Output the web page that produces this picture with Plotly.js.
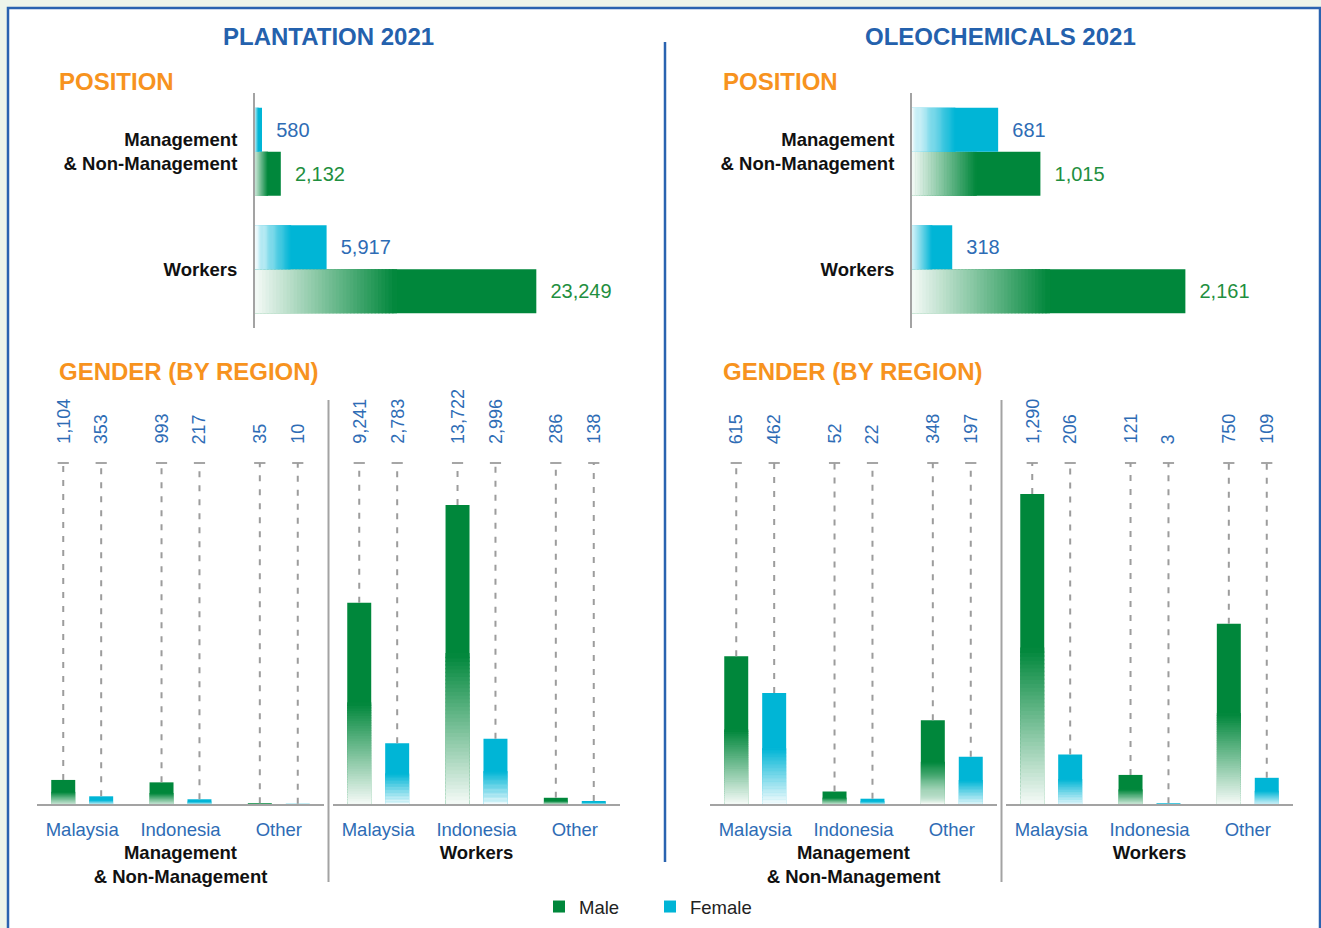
<!DOCTYPE html>
<html>
<head>
<meta charset="utf-8">
<script src="https://cdn.plot.ly/plotly-3.0.1.min.js"></script>
<style>
html, body { margin: 0; padding: 0; background: #eef5ea; }
#chart { width: 1321px; height: 928px; }
</style>
</head>
<body>
<div id="chart"></div>
<script>
// ---------------- DATA ----------------
const positions = ['Workers', 'Management<br>& Non-Management'];
const plantMalePos   = [23249, 2132];
const plantFemalePos = [5917, 580];
const oleoMalePos    = [2161, 1015];
const oleoFemalePos  = [318, 681];

const regions = ['Malaysia', 'Indonesia', 'Other'];
const plantMgmtMale   = [1104, 993, 35];
const plantMgmtFemale = [353, 217, 10];
const plantWorkMale   = [9241, 13722, 286];
const plantWorkFemale = [2783, 2996, 138];
const oleoMgmtMale    = [615, 52, 348];
const oleoMgmtFemale  = [462, 22, 197];
const oleoWorkMale    = [1290, 121, 750];
const oleoWorkFemale  = [206, 3, 109];

const seriesNames = ['Male', 'Female'];

// ---------------- STYLE ----------------
const W = 1321, H = 928;
const px = p => p / W;
const py = p => 1 - p / H;
const FONT = 'Liberation Sans, Arial, Helvetica, sans-serif';
const GREEN = '#00873b';
const CYAN = '#00b5d6';
const LBLUE = '#2e6cb5';
const TBLUE = '#2461ad';
const ORANGE = '#f7931e';
const GRAY = '#a3a3a3';
const LEADER = '#9c9c9c';
const NSEG = 40;
const FADE = 0.5;

function mix(hex, t) {
  const r = parseInt(hex.slice(1, 3), 16), g = parseInt(hex.slice(3, 5), 16), b = parseInt(hex.slice(5, 7), 16);
  const m = c => Math.round(255 + (c - 255) * t);
  return 'rgb(' + m(r) + ',' + m(g) + ',' + m(b) + ')';
}
const fmt = v => v.toLocaleString('en-US');

const traces = [];
const annotations = [];

// gradient bar helper (full solid bar + faded segments at its base)
function gradBars(o) {
  const horiz = o.orientation === 'h';
  const full = {
    type: 'bar', orientation: o.orientation,
    name: o.name, legendgroup: o.name, showlegend: !!o.showlegend,
    offset: o.offset, width: o.width,
    marker: { color: o.color, line: { width: 0 } },
    xaxis: o.xaxis, yaxis: o.yaxis,
    hoverinfo: 'skip', cliponaxis: false
  };
  if (horiz) { full.x = o.vals; full.y = o.pos; } else { full.x = o.pos; full.y = o.vals; }
  if (o.text) {
    full.text = o.vals.map(v => '\u00a0\u00a0' + fmt(v));
    full.textposition = 'outside';
    full.constraintext = 'none';
    full.outsidetextfont = { family: FONT, size: 20, color: o.textcolor };
  } else {
    full.textposition = 'none';
  }
  traces.push(full);
  for (let k = 0; k < NSEG; k++) {
    const base = o.vals.map(v => v * FADE * k / NSEG);
    const len = o.vals.map(v => v * FADE / NSEG * 1.4);
    const seg = {
      type: 'bar', orientation: o.orientation, showlegend: false, legendgroup: o.name,
      offset: o.offset, width: o.width, base: base,
      marker: { color: mix(o.color, 0.04 + 0.96 * (k + 0.5) / NSEG), line: { width: 0 } },
      xaxis: o.xaxis, yaxis: o.yaxis, hoverinfo: 'skip', textposition: 'none'
    };
    if (horiz) { seg.x = len; seg.y = o.pos; } else { seg.x = o.pos; seg.y = len; }
    traces.push(seg);
  }
}

// ---------------- TOP: POSITION ----------------
const HBW = 0.3745;
gradBars({ orientation: 'h', vals: plantMalePos, pos: positions, color: GREEN, offset: -HBW, width: HBW,
  xaxis: 'x', yaxis: 'y', name: seriesNames[0], showlegend: true, text: true, textcolor: '#1f8f40' });
gradBars({ orientation: 'h', vals: plantFemalePos, pos: positions, color: CYAN, offset: 0, width: HBW,
  xaxis: 'x', yaxis: 'y', name: seriesNames[1], showlegend: true, text: true, textcolor: LBLUE });
gradBars({ orientation: 'h', vals: oleoMalePos, pos: positions, color: GREEN, offset: -HBW, width: HBW,
  xaxis: 'x2', yaxis: 'y2', name: seriesNames[0], text: true, textcolor: '#1f8f40' });
gradBars({ orientation: 'h', vals: oleoFemalePos, pos: positions, color: CYAN, offset: 0, width: HBW,
  xaxis: 'x2', yaxis: 'y2', name: seriesNames[1], text: true, textcolor: LBLUE });

// ---------------- BOTTOM: GENDER BY REGION ----------------
const BW = 0.244, SEP = 0.193;
const idx = regions.map((r, i) => i);

function genderPanel(maleVals, femaleVals, xa, ya, top) {
  const sets = [
    { vals: maleVals, color: GREEN, shift: -SEP, name: seriesNames[0] },
    { vals: femaleVals, color: CYAN, shift: SEP, name: seriesNames[1] }
  ];
  sets.forEach(s => {
    gradBars({ orientation: 'v', vals: s.vals, pos: idx, color: s.color, offset: s.shift - BW / 2, width: BW,
      xaxis: xa, yaxis: ya, name: s.name });
    const lx = [], ly = [], cx = [], cy = [];
    s.vals.forEach((v, i) => {
      lx.push(i + s.shift, i + s.shift, null);
      ly.push(v, top, null);
      cx.push(i + s.shift); cy.push(top);
      annotations.push({
        x: i + s.shift, xref: xa, y: py(446), yref: 'paper',
        text: fmt(v), textangle: -90, showarrow: false,
        xanchor: 'center', yanchor: 'bottom',
        font: { family: FONT, size: 18, color: LBLUE }
      });
    });
    traces.push({ type: 'scatter', mode: 'lines', x: lx, y: ly, xaxis: xa, yaxis: ya,
      line: { color: LEADER, width: 2, dash: '6px,8px' }, showlegend: false, hoverinfo: 'skip', cliponaxis: false });
    traces.push({ type: 'scatter', mode: 'markers', x: cx, y: cy, xaxis: xa, yaxis: ya,
      marker: { symbol: 'line-ew-open', size: 8, color: LEADER, line: { color: LEADER, width: 1.8 } },
      showlegend: false, hoverinfo: 'skip', cliponaxis: false });
  });
}

const PLANT_TOP = 15650, OLEO_TOP = 1419;
genderPanel(plantMgmtMale, plantMgmtFemale, 'x3', 'y3', PLANT_TOP);
genderPanel(plantWorkMale, plantWorkFemale, 'x4', 'y3', PLANT_TOP);
genderPanel(oleoMgmtMale, oleoMgmtFemale, 'x5', 'y4', OLEO_TOP);
genderPanel(oleoWorkMale, oleoWorkFemale, 'x6', 'y4', OLEO_TOP);

// ---------------- AXES ----------------
const hidden = { visible: false, fixedrange: true, showgrid: false, zeroline: false };
function posY(anchor) {
  return {
    domain: [py(328), py(93)], anchor: anchor, type: 'category', range: [-0.5, 1.5],
    categoryorder: 'array', categoryarray: positions,
    showline: true, linecolor: GRAY, linewidth: 2, showgrid: false, zeroline: false,
    ticks: 'outside', ticklen: 12, tickcolor: 'rgba(0,0,0,0)',
    tickfont: { family: FONT, size: 18.5, color: '#111', weight: 'bold' }, fixedrange: true
  };
}
function regX(domain, anchor, title) {
  return {
    domain: domain, anchor: anchor, range: [-0.46, 2.46],
    tickmode: 'array', tickvals: idx, ticktext: regions,
    tickfont: { family: FONT, size: 18.5, color: LBLUE },
    ticks: 'outside', ticklen: 8, tickcolor: 'rgba(0,0,0,0)',
    showline: true, linecolor: GRAY, linewidth: 2, showgrid: false, zeroline: false, fixedrange: true,
    title: { text: title, font: { family: FONT, size: 18.5, color: '#111', weight: 'bold' }, standoff: 7 }
  };
}

const shapes = [
  { type: 'rect', xref: 'paper', yref: 'paper', x0: px(8), x1: px(1320), y0: py(8), y1: py(940),
    fillcolor: '#ffffff', line: { color: '#2a63b0', width: 2.5 }, layer: 'below' },
  { type: 'line', xref: 'paper', yref: 'paper', x0: px(665), x1: px(665), y0: py(42), y1: py(862),
    line: { color: '#2a63b0', width: 2.5 } },
  { type: 'line', xref: 'paper', yref: 'paper', x0: px(328.5), x1: px(328.5), y0: py(400), y1: py(882),
    line: { color: GRAY, width: 2 } },
  { type: 'line', xref: 'paper', yref: 'paper', x0: px(1001.5), x1: px(1001.5), y0: py(400), y1: py(882),
    line: { color: GRAY, width: 2 } }
];

function head(text, x, y, color, anchor) {
  annotations.push({ text: text, x: px(x), y: py(y), xref: 'paper', yref: 'paper', showarrow: false,
    xanchor: anchor, yanchor: 'middle', font: { family: FONT, size: 24, color: color, weight: 'bold' } });
}
head('PLANTATION 2021', 328, 37, TBLUE, 'center');
head('OLEOCHEMICALS 2021', 1000.5, 37, TBLUE, 'center');
head('POSITION', 57, 81.5, ORANGE, 'left');
head('POSITION', 721, 81.5, ORANGE, 'left');
head('GENDER (BY REGION)', 57, 371.5, ORANGE, 'left');
head('GENDER (BY REGION)', 721, 371.5, ORANGE, 'left');

const layout = {
  width: W, height: H,
  margin: { l: 0, r: 0, t: 0, b: 0 },
  paper_bgcolor: '#eef5ea', plot_bgcolor: 'rgba(0,0,0,0)',
  font: { family: FONT, color: '#111' },
  barmode: 'overlay',
  showlegend: true,
  legend: { orientation: 'h', x: px(650), xanchor: 'center', y: py(907), yanchor: 'middle',
    font: { family: FONT, size: 18.5, color: '#222' }, bgcolor: 'rgba(0,0,0,0)', traceorder: 'normal',
    entrywidth: 66 },
  xaxis: Object.assign({}, hidden, { domain: [px(255), px(620)], anchor: 'y', range: [0, 30165] }),
  yaxis: posY('x'),
  xaxis2: Object.assign({}, hidden, { domain: [px(912), px(1290)], anchor: 'y2', range: [0, 2988] }),
  yaxis2: posY('x2'),
  xaxis3: regX([px(37), px(324)], 'y3', 'Management<br>& Non-Management'),
  xaxis4: regX([px(333), px(620)], 'y3', 'Workers'),
  xaxis5: regX([px(710), px(997)], 'y4', 'Management<br>& Non-Management'),
  xaxis6: regX([px(1006), px(1293)], 'y4', 'Workers'),
  yaxis3: Object.assign({}, hidden, { domain: [py(804), py(463)], anchor: 'x3', range: [0, PLANT_TOP] }),
  yaxis4: Object.assign({}, hidden, { domain: [py(804), py(463)], anchor: 'x5', range: [0, OLEO_TOP] }),
  shapes: shapes,
  annotations: annotations
};

Plotly.newPlot('chart', traces, layout, { staticPlot: true, displayModeBar: false });
</script>
</body>
</html>
